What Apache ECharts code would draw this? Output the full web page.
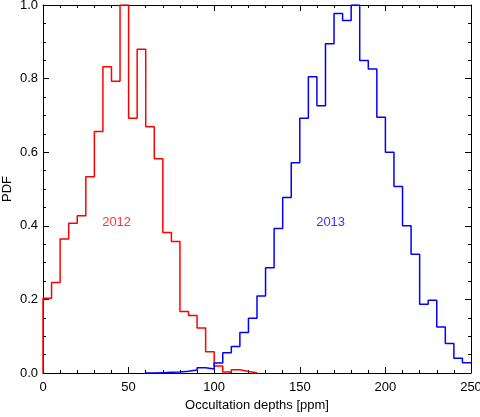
<!DOCTYPE html>
<html>
<head>
<meta charset="utf-8">
<script src="https://cdn.jsdelivr.net/npm/echarts@6/dist/echarts.min.js"></script>
<style>
  html, body { margin: 0; padding: 0; background: #fff; }
  #main { width: 480px; height: 417px; }
</style>
</head>
<body>
<div id="main"></div>
<script>
// histogram bins, 5 ppm wide
var binWidth = 5;
var redStart = 0;      // first 2012 bin starts at 0 ppm
var blueStart = 60;    // first 2013 bin starts at 60 ppm

var pdf2012 = [0.203, 0.246, 0.364, 0.407, 0.427, 0.533, 0.656, 0.832, 0.793, 1.0,
               0.692, 0.880, 0.669, 0.582, 0.382, 0.357, 0.167, 0.156, 0.122, 0.058,
               0.019, 0.003, 0.009, 0.004, 0.001];
var pdf2013 = [0.0, 0.001, 0.002, 0.003, 0.005, 0.008, 0.014, 0.011, 0.027, 0.055,
               0.072, 0.110, 0.149, 0.209, 0.286, 0.393, 0.477, 0.571, 0.692, 0.805,
               0.726, 0.895, 0.977, 0.958, 1.0, 0.849, 0.826, 0.695, 0.600, 0.507,
               0.400, 0.323, 0.187, 0.198, 0.125, 0.080, 0.040, 0.028];

var labelNames = ['2012', '2013'];
var labelPos = [[43, 0.408], [168, 0.408]];

function steps(start, vals, dropToZero) {
  var pts = [[start, 0]];
  for (var i = 0; i < vals.length; i++) {
    pts.push([start + i * binWidth, vals[i]]);
  }
  var end = start + vals.length * binWidth;
  pts.push([end, vals[vals.length - 1]]);
  if (dropToZero) pts.push([end, 0]);
  return pts;
}

var font = 'Liberation Sans, Arial, sans-serif';
var myChart = echarts.init(document.getElementById('main'));

function xAx(pos, labels) {
  return {
    type: 'value', position: pos, min: 0, max: 250, interval: 50,
    name: labels ? 'Occultation depths [ppm]' : '',
    nameLocation: 'middle', nameGap: 26,
    nameTextStyle: { color: '#000', fontSize: 13, fontFamily: font },
    axisLine: { show: true, onZero: false, lineStyle: { color: '#000', width: 1 } },
    axisTick: { show: true, inside: true, length: 6, lineStyle: { color: '#000' } },
    minorTick: { show: true, splitNumber: 5, length: 3, lineStyle: { color: '#000' } },
    axisLabel: { show: labels, color: '#000', fontSize: 13, fontFamily: font, margin: 8 },
    splitLine: { show: false }
  };
}
function yAx(pos, labels) {
  return {
    type: 'value', position: pos, min: 0, max: 1.0, interval: 0.2,
    axisLine: { show: true, onZero: false, lineStyle: { color: '#000', width: 1 } },
    axisTick: { show: true, inside: true, length: 6, lineStyle: { color: '#000' } },
    minorTick: { show: true, splitNumber: 4, length: 3, lineStyle: { color: '#000' } },
    axisLabel: { show: labels, color: '#000', fontSize: 13, fontFamily: font, margin: 5,
                 formatter: function (v) { return v.toFixed(1); } },
    splitLine: { show: false }
  };
}

myChart.setOption({
  animation: false,
  backgroundColor: '#fff',
  grid: { left: 43, right: 9, top: 5, bottom: 44, containLabel: false, outerBoundsMode: 'none' },
  xAxis: [xAx('bottom', true), xAx('top', false)],
  yAxis: [yAx('left', true), yAx('right', false)],
  graphic: [{
    type: 'text', x: 7, y: 189, rotation: Math.PI / 2,
    style: { text: 'PDF', fill: '#000', fontSize: 13, fontFamily: font,
             align: 'center', verticalAlign: 'middle' }
  }],
  series: [
    {
      type: 'line', step: 'end', symbol: 'none',
      data: steps(redStart, pdf2012, true),
      lineStyle: { color: '#ff0000', width: 1.5 }
    },
    {
      type: 'line', step: 'end', symbol: 'none',
      data: steps(blueStart, pdf2013, false),
      lineStyle: { color: '#0000ff', width: 1.5 }
    },
    {
      type: 'scatter', symbolSize: 0,
      data: labelPos.map(function (p, i) {
        return {
          value: p,
          label: {
            show: true, position: 'inside', formatter: labelNames[i],
            color: i === 0 ? '#ff0000' : '#0000ff', fontSize: 13, fontFamily: font
          }
        };
      })
    }
  ]
});
</script>
</body>
</html>
